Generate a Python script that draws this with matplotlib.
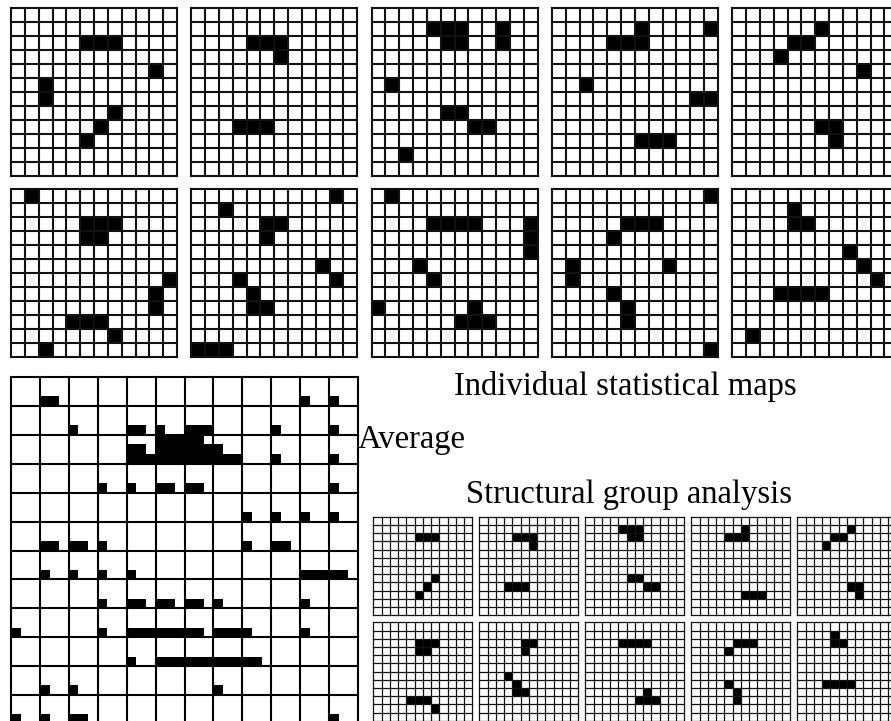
import numpy as np
import matplotlib
matplotlib.use("Agg")
import matplotlib.pyplot as plt

W, H = 891, 721
N = 12

# ---- individual statistical maps: black cells (row, col) on a 12x12 grid ----
MAP1 = [(2,5),(2,6),(2,7),(4,10),(5,2),(6,2),(7,7),(8,6),(9,5)]
MAP2 = [(2,4),(2,5),(2,6),(3,6),(8,3),(8,4),(8,5)]
MAP3 = [(1,4),(1,5),(1,6),(2,5),(2,6),(1,9),(2,9),(5,1),(7,5),(7,6),(8,7),(8,8),(10,2)]
MAP4 = [(1,6),(1,11),(2,4),(2,5),(2,6),(5,2),(6,10),(6,11),(9,6),(9,7),(9,8)]
MAP5 = [(1,6),(2,4),(2,5),(3,3),(4,9),(8,6),(8,7),(9,7)]
MAP6 = [(0,1),(2,5),(2,6),(2,7),(3,5),(3,6),(6,11),(7,10),(8,10),(9,4),(9,5),(9,6),(10,7),(11,2)]
MAP7 = [(0,10),(1,2),(2,5),(2,6),(3,5),(5,9),(6,3),(6,10),(7,4),(8,4),(8,5),(11,0),(11,1),(11,2)]
MAP8 = [(0,1),(2,4),(2,5),(2,6),(2,7),(2,11),(3,11),(4,11),(5,3),(6,4),(8,0),(8,7),(9,6),(9,7),(9,8)]
MAP9 = [(0,11),(2,5),(2,6),(2,7),(3,4),(5,1),(6,1),(5,8),(7,4),(8,5),(9,5),(11,11)]
MAP10 = [(1,4),(2,4),(2,5),(4,8),(5,9),(6,10),(7,3),(7,4),(7,5),(7,6),(10,1)]

# ---- structural group analysis maps ----
SGA1 = [(2,5),(2,6),(2,7),(7,7),(8,6),(9,5)]
SGA2 = [(2,4),(2,5),(2,6),(3,6),(8,3),(8,4),(8,5)]
SGA3 = [(1,4),(1,5),(1,6),(2,5),(2,6),(7,5),(7,6),(8,7),(8,8)]
SGA4 = [(1,6),(2,4),(2,5),(2,6),(9,6),(9,7),(9,8)]
SGA5 = [(1,6),(2,4),(2,5),(3,3),(8,6),(8,7),(9,7)]
SGA6 = [(2,5),(2,6),(2,7),(3,5),(3,6),(9,4),(9,5),(9,6),(10,7)]
SGA7 = [(2,5),(2,6),(3,5),(6,3),(7,4),(8,4),(8,5)]
SGA8 = [(2,4),(2,5),(2,6),(2,7),(8,7),(9,6),(9,7),(9,8)]
SGA9 = [(2,5),(2,6),(2,7),(3,4),(7,4),(8,5),(9,5)]
SGA10 = [(1,4),(2,4),(2,5),(7,3),(7,4),(7,5),(7,6)]

# ---- average map: fine 36x36 grid, black cells per fine row ----
AVG_FINE = 36
AVG_ROWS = {
    2: [3, 4, 30, 33],
    5: [6, 12, 13, 15, 18, 19, 20, 27, 33],
    6: [15, 16, 17, 18, 19],
    7: [12, 13, 15, 16, 17, 18, 19, 20, 21],
    8: [12, 13, 14, 15, 16, 17, 18, 19, 20, 21, 22, 23, 27, 33],
    11: [9, 12, 15, 16, 18, 19, 33],
    14: [24, 27, 30, 33],
    17: [3, 4, 6, 7, 9, 24, 27, 28],
    20: [3, 6, 9, 12, 30, 31, 32, 33, 34],
    23: [9, 12, 13, 15, 16, 18, 19, 21, 30],
    26: [0, 9, 12, 13, 14, 15, 16, 17, 18, 19, 21, 22, 23, 24, 30],
    29: [12, 15, 16, 17, 18, 19, 20, 21, 22, 23, 24, 25],
    32: [3, 6, 21],
    35: [0, 3, 6, 7, 33],
}

LABELS = ["Individual statistical maps", "Average", "Structural group analysis"]

INDIVIDUAL = [MAP1, MAP2, MAP3, MAP4, MAP5, MAP6, MAP7, MAP8, MAP9, MAP10]
STRUCTURAL = [SGA1, SGA2, SGA3, SGA4, SGA5, SGA6, SGA7, SGA8, SGA9, SGA10]

fig = plt.figure(figsize=(W / 100, H / 100), dpi=100)
fig.patch.set_facecolor("white")


def px_axes(x, y, w, h):
    ax = fig.add_axes([x / W, 1 - (y + h) / H, w / W, h / H])
    ax.set_axis_off()
    return ax


def to_array(cells):
    a = np.zeros((N, N))
    for r, c in cells:
        a[r, c] = 1
    return a


def grid_lines(ax, lw, color, aa=True):
    for k in range(N + 1):
        ax.axhline(k, color=color, lw=lw, clip_on=False, antialiased=aa)
        ax.axvline(k, color=color, lw=lw, clip_on=False, antialiased=aa)


def draw_map(ax, cells, lw, ec, aa=True):
    a = to_array(cells)
    ax.pcolormesh(np.arange(N + 1), np.arange(N + 1), a, cmap="gray_r",
                  vmin=0, vmax=1, shading="flat", edgecolors="none")
    grid_lines(ax, lw, ec, aa)
    ax.set_xlim(0, N)
    ax.set_ylim(N, 0)


# top two rows
for i, cells in enumerate(INDIVIDUAL):
    row, col = divmod(i, 5)
    x = 11 + 180.3 * col
    y = 8.3 if row == 0 else 189.3
    ax = px_axes(x, y, 166, 167.3)
    draw_map(ax, cells, 1.5, "#111111")

# average map
ax = px_axes(11, 377, 347, 347)
avg = np.zeros((AVG_FINE, AVG_FINE))
for r, cols in AVG_ROWS.items():
    avg[r, cols] = 1
ax.imshow(avg, cmap="gray_r", vmin=0, vmax=1, interpolation="nearest",
          extent=(0, N, N, 0), aspect="auto")
grid_lines(ax, 1.5, "black")
ax.set_xlim(0, N)
ax.set_ylim(N, 0)

# structural group analysis small maps
for i, cells in enumerate(STRUCTURAL):
    row, col = divmod(i, 5)
    x = 373.3 + 106 * col
    y = 516.7 if row == 0 else 622.3
    ax = px_axes(x, y, 99, 98.6)
    draw_map(ax, cells, 0.9, "#111111", aa=True)

font = dict(family="Liberation Serif", fontsize=23.5, color="black")
fig.text(625 / W, 1 - 395 / H, LABELS[0], ha="center", va="baseline", **font)
fig.text(358 / W, 1 - 448 / H, LABELS[1], ha="left", va="baseline", **font)
fig.text(629 / W, 1 - 503 / H, LABELS[2], ha="center", va="baseline", **font)

fig.savefig("out.png", dpi=100, facecolor="white")
